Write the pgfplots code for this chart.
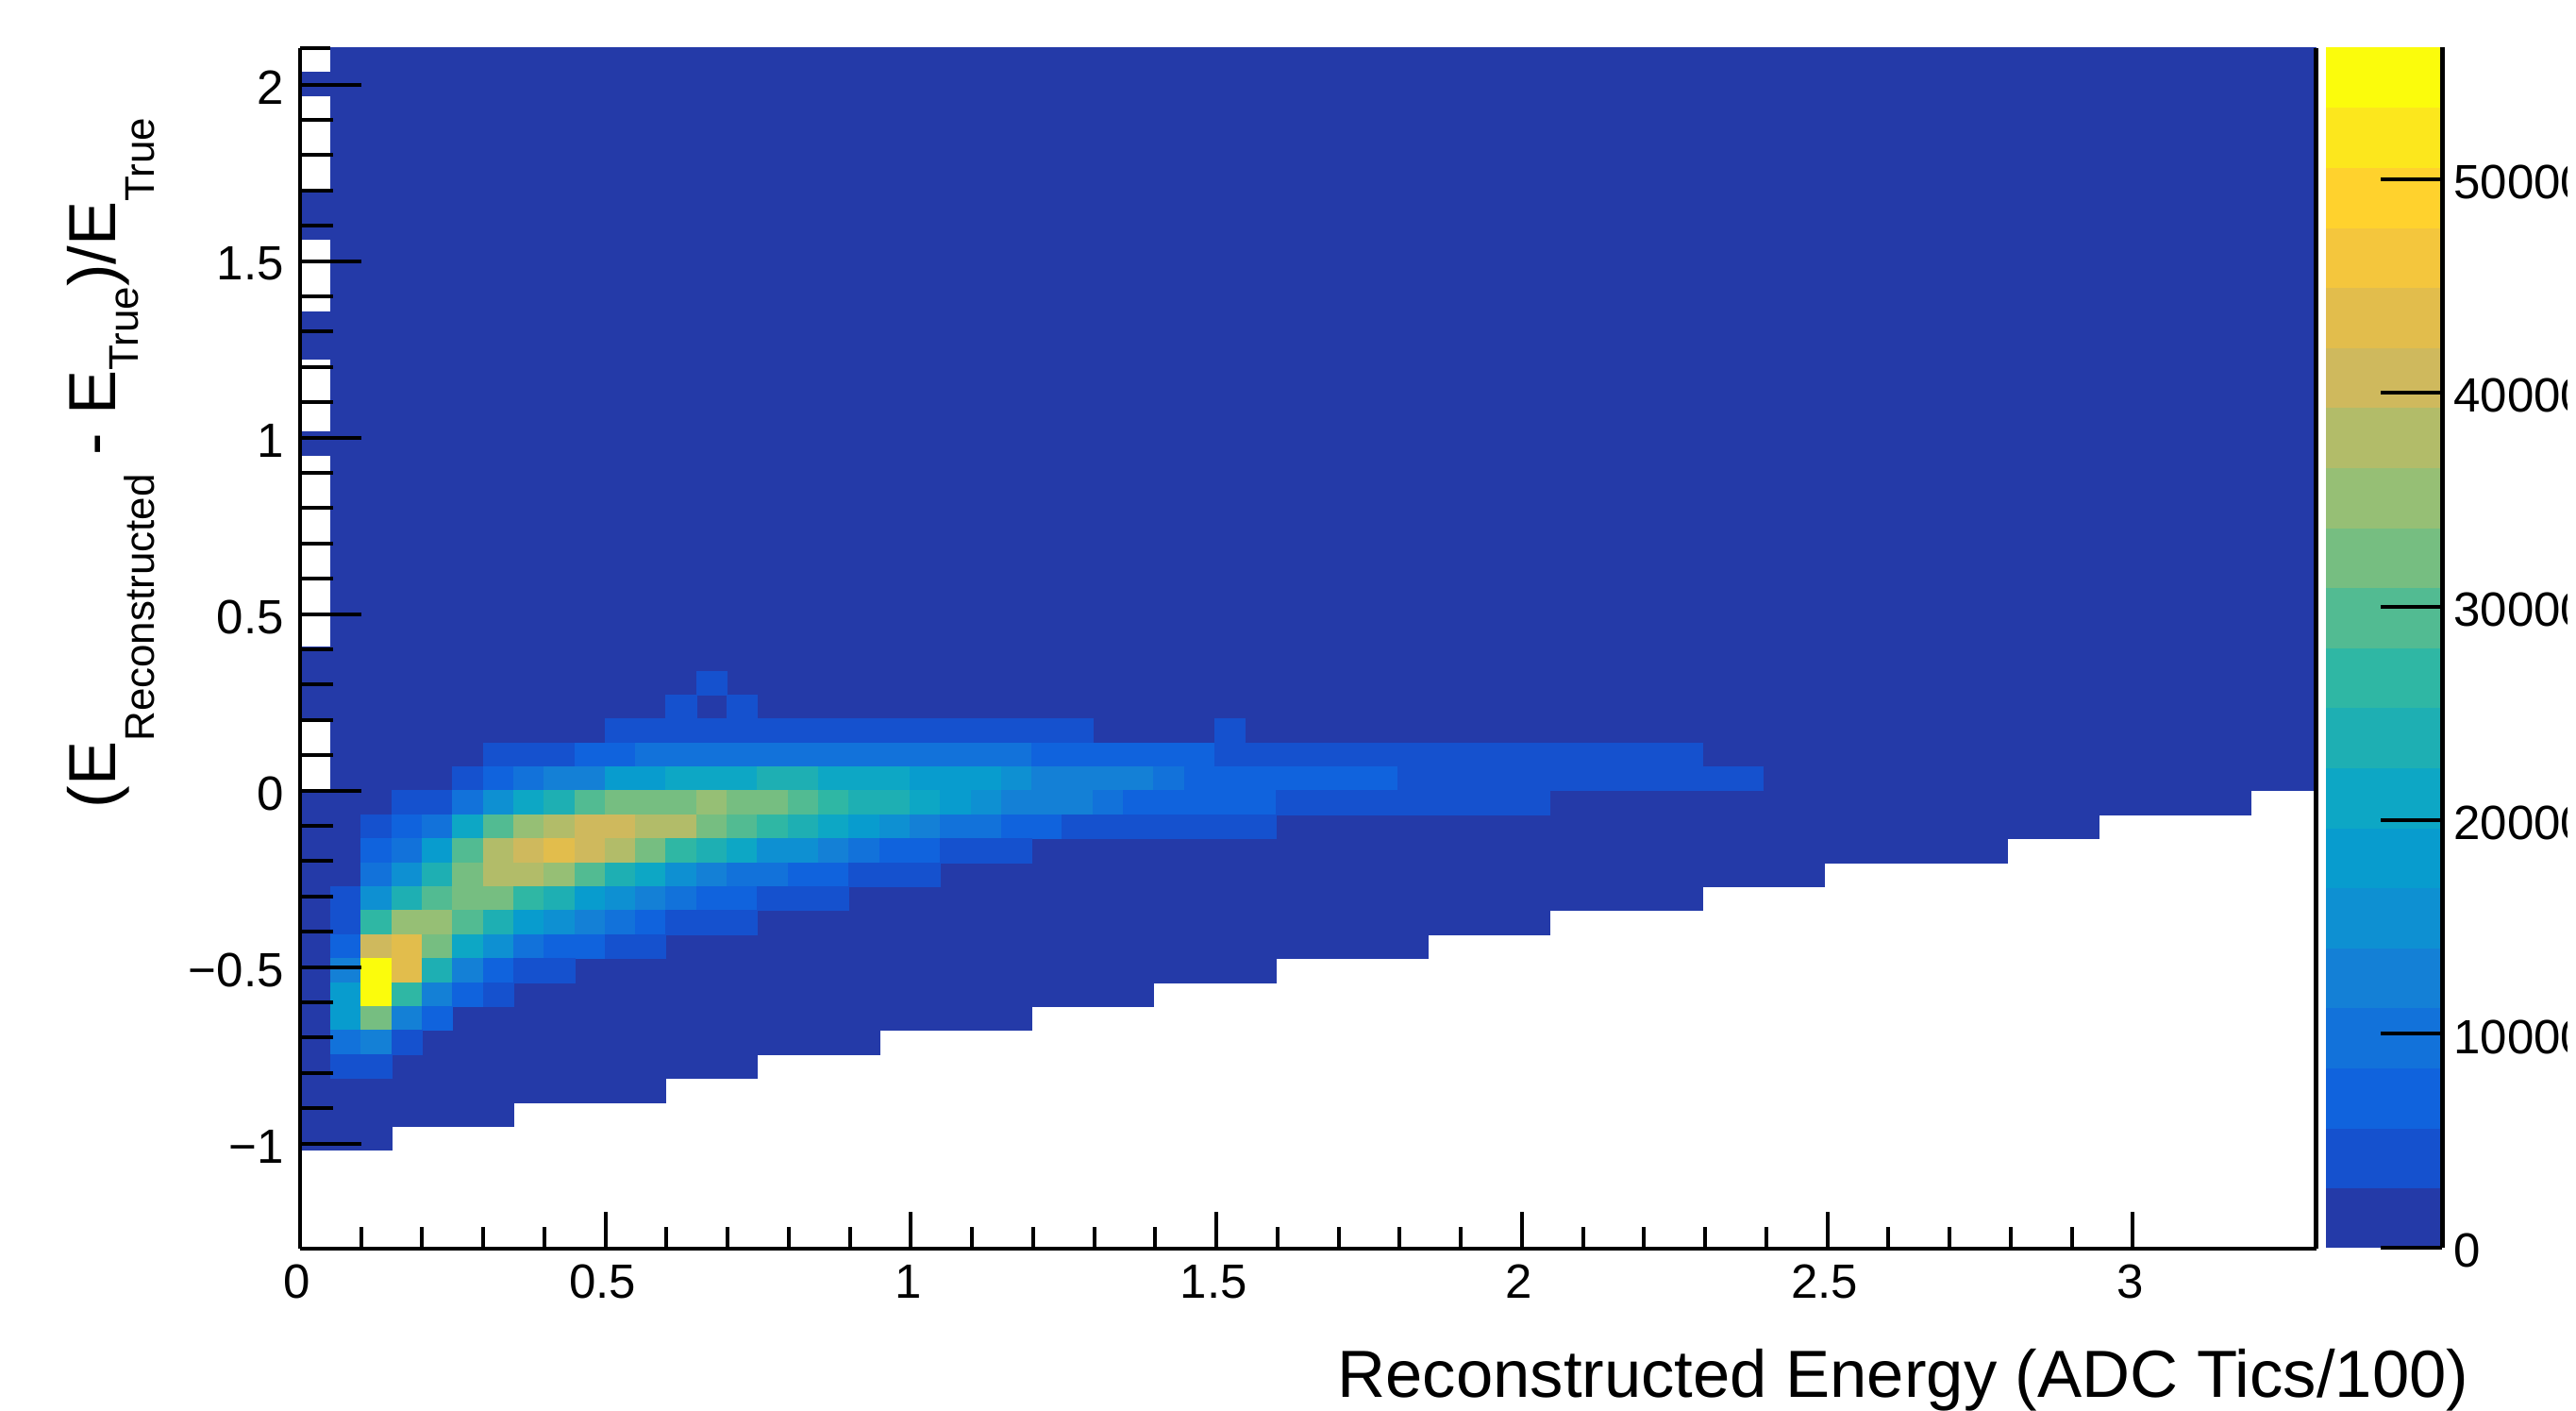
\documentclass[border=0pt]{standalone}
\usepackage{fontspec}
\setmainfont{Liberation Sans}
\usepackage{pgfplots}
\pgfplotsset{compat=1.18}
\definecolor{L1}{RGB}{36,58,168}
\definecolor{L2}{RGB}{21,81,206}
\definecolor{L3}{RGB}{16,99,221}
\definecolor{L4}{RGB}{18,114,218}
\definecolor{L5}{RGB}{20,128,214}
\definecolor{L6}{RGB}{14,144,210}
\definecolor{L7}{RGB}{8,156,206}
\definecolor{L8}{RGB}{13,167,197}
\definecolor{L9}{RGB}{30,175,179}
\definecolor{L10}{RGB}{47,183,164}
\definecolor{L11}{RGB}{82,187,146}
\definecolor{L12}{RGB}{118,190,129}
\definecolor{L13}{RGB}{150,191,117}
\definecolor{L14}{RGB}{178,188,105}
\definecolor{L15}{RGB}{207,185,93}
\definecolor{L16}{RGB}{226,189,76}
\definecolor{L17}{RGB}{244,198,61}
\definecolor{L18}{RGB}{255,210,45}
\definecolor{L19}{RGB}{252,231,29}
\definecolor{L20}{RGB}{251,252,12}
\newcommand{\tickfont}{\fontsize{14.5pt}{16pt}\selectfont}
\newcommand{\titlefont}{\fontsize{20.1pt}{22pt}\selectfont}
\newcommand{\subfont}{\fontsize{12.5pt}{15pt}\selectfont}
\begin{document}
\begin{tikzpicture}[x=1cm,y=1cm]
\path[use as bounding box] (0,0) rectangle (27.30,14.95);
\clip (0,0) rectangle (27.20,14.95);
% main panel: heat map and y ticks
\begin{axis}[
  at={(3.18cm,1.72cm)}, anchor=south west,
  scale only axis, width=21.365cm, height=12.72cm,
  xmin=0, xmax=3.3, ymin=-1.298, ymax=2.103,
  axis lines=left, axis line style={-,line width=0.045cm},
  axis on top, tick align=inside,
  xtick=\empty,
  ytick={-1,-0.5,0,0.5,1,1.5,2},
  yticklabels={−1,−0.5,0,0.5,1,1.5,2},
  minor y tick num=4,
  major tick length=0.65cm, minor tick length=0.35cm,
  every tick/.style={black,line width=0.04cm},
  tick label style={font=\tickfont},
  yticklabel style={xshift=-0.05cm,yshift=-0.03cm},
]
\foreach \rw/\ca/\cb/\lv in {
4/0/3/1,5/0/7/1,6/0/12/1,7/0/15/1,8/0/19/1,9/0/24/1,10/0/28/1,11/0/32/1,12/0/37/1,13/0/41/1,
14/0/46/1,15/0/50/1,16/0/56/1,17/0/59/1,18/0/64/1,19/1/67/1,20/1/67/1,21/1/67/1,22/0/67/1,23/0/67/1,
24/0/67/1,25/1/67/1,26/1/67/1,27/1/67/1,28/1/67/1,29/1/67/1,30/1/67/1,31/1/67/1,32/1/67/1,33/0/67/1,
34/1/67/1,35/1/67/1,36/1/67/1,37/0/67/1,38/0/67/1,39/1/67/1,40/1/67/1,41/1/67/1,42/0/67/1,43/0/67/1,
44/1/67/1,45/1/67/1,46/1/67/1,47/1/67/1,48/0/67/1,49/1/67/1,
23/13/14/2,
22/12/13/2,22/14/15/2,
21/10/26/2,21/30/31/2,
20/6/9/2,20/9/11/3,20/11/24/4,20/24/30/3,20/30/46/2,
19/5/6/2,19/6/7/3,19/7/8/4,19/8/10/5,19/10/12/7,19/12/15/8,19/15/17/9,19/17/20/8,19/20/23/7,19/23/24/6,19/24/28/5,19/28/29/4,19/29/36/3,19/36/48/2,
18/3/5/2,18/5/6/4,18/6/7/6,18/7/8/8,18/8/9/9,18/9/10/11,18/10/13/12,18/13/14/13,18/14/16/12,18/16/17/11,18/17/18/10,18/18/20/9,18/20/21/8,18/21/22/7,18/22/23/6,18/23/26/5,18/26/27/4,18/27/32/3,18/32/41/2,
17/2/3/2,17/3/4/3,17/4/5/4,17/5/6/8,17/6/7/11,17/7/8/13,17/8/9/14,17/9/11/15,17/11/13/14,17/13/14/12,17/14/15/11,17/15/16/10,17/16/17/9,17/17/18/8,17/18/19/7,17/19/20/6,17/20/21/5,17/21/23/4,17/23/25/3,17/25/32/2,
16/2/3/3,16/3/4/4,16/4/5/7,16/5/6/11,16/6/7/14,16/7/8/15,16/8/9/16,16/9/10/15,16/10/11/14,16/11/12/12,16/12/13/10,16/13/14/9,16/14/15/8,16/15/17/6,16/17/18/5,16/18/19/4,16/19/21/3,16/21/24/2,
15/2/3/4,15/3/4/6,15/4/5/9,15/5/6/12,15/6/8/14,15/8/9/13,15/9/10/11,15/10/11/9,15/11/12/8,15/12/13/6,15/13/14/5,15/14/16/4,15/16/18/3,15/18/21/2,
14/1/2/2,14/2/3/6,14/3/4/9,14/4/5/11,14/5/7/12,14/7/8/10,14/8/9/9,14/9/10/7,14/10/11/6,14/11/12/5,14/12/13/4,14/13/15/3,14/15/18/2,
13/1/2/2,13/2/3/10,13/3/5/13,13/5/6/11,13/6/7/9,13/7/8/7,13/8/9/6,13/9/10/5,13/10/11/4,13/11/12/3,13/12/15/2,
12/1/2/3,12/2/3/15,12/3/4/16,12/4/5/12,12/5/6/8,12/6/7/6,12/7/8/4,12/8/10/3,12/10/12/2,
11/1/2/5,11/2/3/20,11/3/4/16,11/4/5/9,11/5/6/5,11/6/7/3,11/7/9/2,
10/1/2/7,10/2/3/20,10/3/4/10,10/4/5/5,10/5/6/3,10/6/7/2,
9/1/2/7,9/2/3/12,9/3/4/5,9/4/5/3,
8/1/2/4,8/2/3/5,8/3/4/2,
7/1/3/2}{
  \pgfmathsetmacro\ya{-1.2905+0.0679*\rw}
  \pgfmathsetmacro\yb{-1.2905+0.0679*(\rw+1)}
  \pgfmathsetmacro\xa{0.0499*\ca}
  \pgfmathsetmacro\xb{0.0499*\cb}
  \edef\tmp{\noexpand\addplot[draw=L\lv,fill=L\lv,line width=0.1pt,forget plot] coordinates {(\xa,\ya)(\xb,\ya)(\xb,\yb)(\xa,\yb)} --cycle;}
  \tmp
}
\end{axis}
% x ticks, frame pieces
\begin{axis}[
  at={(3.18cm,1.72cm)}, anchor=south west,
  scale only axis, width=21.365cm, height=12.72cm,
  xmin=0, xmax=3.3, ymin=-1.298, ymax=2.103,
  axis lines=left, axis line style={-,line width=0.045cm},
  axis on top, tick align=inside, clip=false,
  ytick=\empty,
  xtick={0,0.5,1,1.5,2,2.5,3},
  xticklabels={0,0.5,1,1.5,2,2.5,3},
  minor x tick num=4,
  major tick length=0.39cm, minor tick length=0.23cm,
  every tick/.style={black,line width=0.04cm},
  tick label style={font=\tickfont},
  xticklabel style={xshift=-0.03cm,yshift=-0.05cm},
]
\draw[black,line width=0.04cm] (axis cs:0,2.103)--(axis cs:0.05,2.103);
\draw[black,line width=0.05cm] (axis cs:3.3,-1.298)--(axis cs:3.3,2.103);
\end{axis}
% colour scale
\begin{axis}[
  at={(24.65cm,1.73cm)}, anchor=south west,
  scale only axis, width=1.23cm, height=12.72cm,
  xmin=0, xmax=1, ymin=0, ymax=56160,
  axis y line=right, axis x line=none,
  axis line style={-,line width=0.05cm},
  axis on top, tick align=inside,
  xtick=\empty,
  ytick={0,10000,20000,30000,40000,50000},
  yticklabels={0,10000,20000,30000,40000,50000},
  major tick length=0.65cm,
  every tick/.style={black,line width=0.04cm},
  tick label style={font=\tickfont},
  yticklabel style={xshift=0cm,yshift=-0.03cm},
]
\foreach \lv/\za/\zb in {1/0/2808,2/2808/5616,3/5616/8424,4/8424/11232,5/11232/14040,6/14040/16848,7/16848/19656,8/19656/22464,9/22464/25272,10/25272/28080,11/28080/30888,12/30888/33696,13/33696/36504,14/36504/39312,15/39312/42120,16/42120/44928,17/44928/47736,18/47736/50544,19/50544/53352,20/53352/56160}{
  \edef\tmp{\noexpand\addplot[draw=L\lv,fill=L\lv,line width=0.1pt,forget plot] coordinates {(0,\za)(0.98,\za)(0.98,\zb)(0,\zb)} --cycle;}
  \tmp
}
\end{axis}
\node[anchor=base east,inner sep=0pt,font=\titlefont] at (26.17,0.14) {Reconstructed Energy (ADC Tics/100)};
\node[rotate=90,anchor=base west,inner sep=0pt,font=\titlefont] at (1.23,6.38) {(E\raisebox{-0.40cm}{\subfont Reconstructed}\ - E\raisebox{-0.23cm}{\subfont True})/E\raisebox{-0.40cm}{\subfont True}};
\end{tikzpicture}
\end{document}
